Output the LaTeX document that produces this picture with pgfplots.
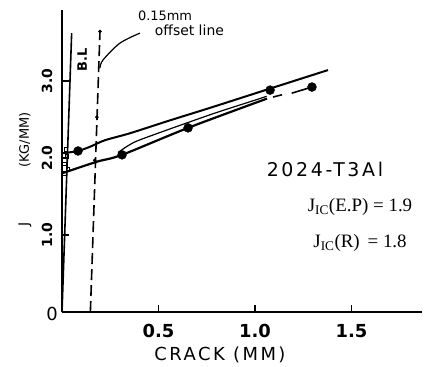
\documentclass[border=0pt]{standalone}
\usepackage{pgfplots}
\pgfplotsset{compat=1.18}
\usepackage{fontspec}
\setmainfont{DejaVu Sans}
\newfontfamily\hand{Liberation Serif}
\newfontfamily\spaced[LetterSpace=14]{DejaVu Sans}
\begin{document}
\begin{tikzpicture}
\useasboundingbox (0,0) rectangle (432bp,367bp);
\begin{axis}[
  at={(62bp,55bp)}, anchor=south west, scale only axis,
  width=360bp, height=302bp,
  xmin=0, xmax=1.865, ymin=0, ymax=3.92,
  axis x line=bottom, axis y line=left,
  x axis line style={-, line width=2bp},
  y axis line style={-, line width=2.6bp},
  xtick={0.5,1,1.5}, xticklabels={0.5,1.0,1.5},
  ytick={1,2,3}, yticklabels={},
  tick align=inside, major tick length=7bp,
  tick style={line width=1.6bp, black},
  xticklabel style={font=\bfseries\fontsize{18}{18}\selectfont, yshift=-9bp},
  clip=false,
]
% blunting line and offset line
\addplot[black, line width=1.6bp] coordinates {(0.0,0.0) (0.05,3.62)};
\addplot[black, line width=1.6bp, dash pattern=on 11bp off 5bp] coordinates {(0.147,0.0) (0.197,3.66)};
\addplot[black, only marks, mark=*, mark size=1.6bp] coordinates {(0.181,2.53) (0.17,1.97) (0.197,3.64)};
% leader
\addplot[black, line width=1.2bp, smooth] coordinates {(0.197,3.17) (0.212,3.27) (0.30,3.49) (0.404,3.62)};
% upper curve
\addplot[black, line width=2bp, smooth] coordinates {(0.0,2.06) (0.083,2.09) (0.15,2.15) (0.223,2.23) (0.352,2.32) (0.55,2.48) (0.767,2.65) (1.078,2.90) (1.378,3.14)};
% tongue
\addplot[black, line width=1.2bp, smooth] coordinates {(0.29,2.07) (0.35,2.17) (0.42,2.25) (0.767,2.56) (1.0,2.75) (1.06,2.80)};
% lower curve
\addplot[black, line width=2.2bp, smooth] coordinates {(0.0,1.80) (0.18,1.95) (0.311,2.04) (0.653,2.39) (1.062,2.77)};
% dashed continuation
\addplot[black, line width=1.6bp] coordinates {(1.093,2.79) (1.14,2.82)};
\addplot[black, line width=1.6bp] coordinates {(1.19,2.84) (1.295,2.92)};
% points
\addplot[black, only marks, mark=*, mark size=4.5bp] coordinates {(0.083,2.09) (0.311,2.04) (0.653,2.39) (1.078,2.88) (1.295,2.92)};
\addplot[black, only marks, mark=square, mark size=1.8bp, mark options={line width=0.8bp}] coordinates {(0.012,1.80) (0.012,1.92) (0.025,2.02) (0.02,2.11) (0.03,1.86)};
% y tick labels
\node[font=\bfseries\fontsize{14}{14}\selectfont, rotate=90] at (axis cs:-0.078,1) {1.0};
\node[font=\bfseries\fontsize{14}{14}\selectfont, rotate=90] at (axis cs:-0.078,2) {2.0};
\node[font=\bfseries\fontsize{14}{14}\selectfont, rotate=90] at (axis cs:-0.078,3) {3.0};
% texts
\node[font=\fontsize{13}{13}\selectfont] at (axis cs:0.534,3.84) {0.15mm};
\node[font=\fontsize{14}{14}\selectfont] at (axis cs:0.66,3.65) {offset line};
\node[font=\bfseries\fontsize{13}{13}\selectfont, rotate=90] at (axis cs:0.104,3.27) {B.L};
\node[font=\spaced\fontsize{19}{19}\selectfont] at (axis cs:1.362,1.856) {2024-T3Al};
\node[font=\hand\fontsize{19}{19}\selectfont] at (axis cs:1.544,1.363) {J\textsubscript{IC}(E.P) = 1.9};
\node[font=\hand\fontsize{19}{19}\selectfont] at (axis cs:1.544,0.896) {J\textsubscript{IC}(R) \,= 1.8};
\node[font=\fontsize{18}{18}\selectfont] at (axis cs:-0.052,-0.026) {0};
\node[font=\fontsize{14}{14}\selectfont, rotate=90] at (axis cs:-0.192,1.13) {J};
\node[font=\fontsize{13}{13}\selectfont, rotate=90] at (axis cs:-0.192,2.23) {(KG/MM)};
\node[font=\spaced\fontsize{18}{18}\selectfont] at (axis cs:0.818,-0.558) {CRACK (MM)};
\end{axis}
\end{tikzpicture}
\end{document}
